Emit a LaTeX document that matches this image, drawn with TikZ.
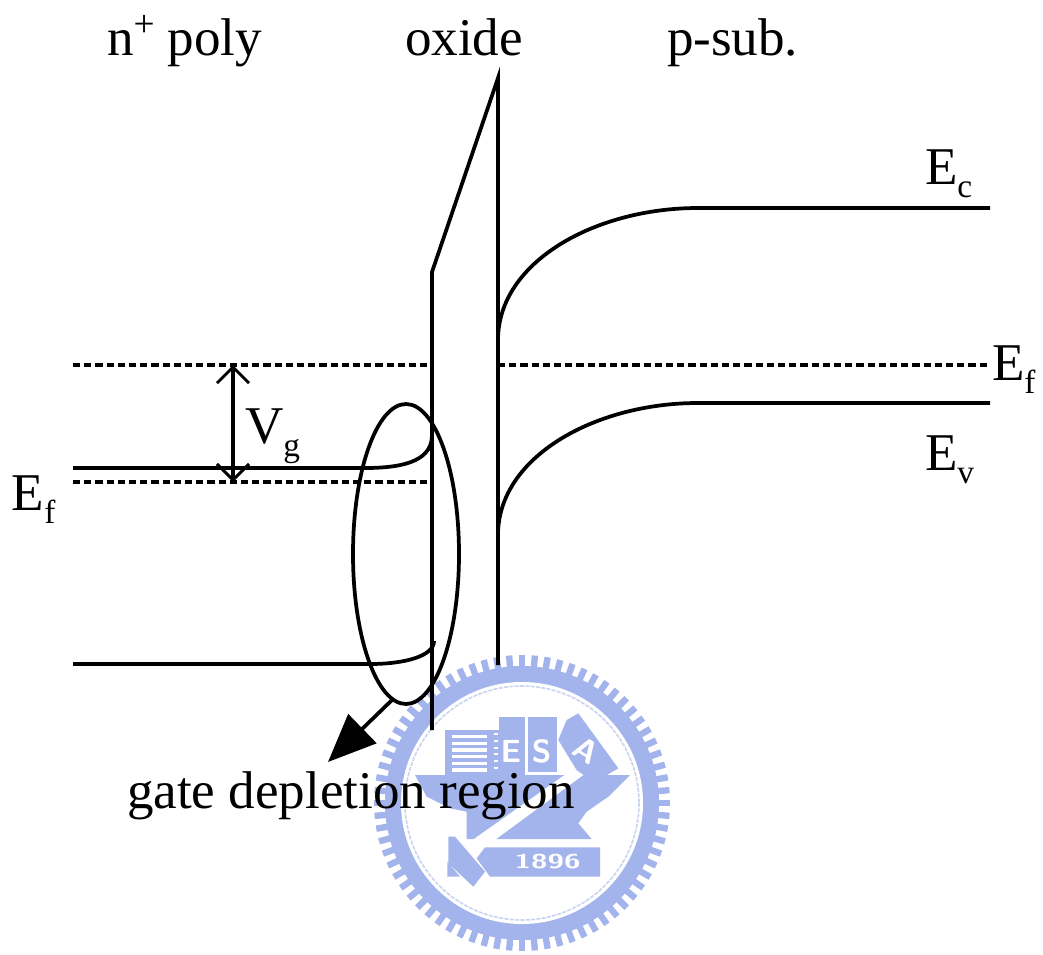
\documentclass[tikz,border=0pt]{standalone}
\usepackage{fontspec}
\setmainfont{Liberation Serif}
\usetikzlibrary{arrows.meta,shapes.geometric}
\definecolor{emb}{HTML}{A3B4EC}
\definecolor{embpale}{HTML}{C9D3F2}
\newcommand{\sbs}[1]{\raisebox{-10pt}{\fontsize{25}{25}\selectfont #1}}
\newcommand{\sps}[1]{\raisebox{14pt}{\fontsize{28}{28}\selectfont #1}}
\tikzset{
  lbl/.style={anchor=base west,inner sep=0pt,outer sep=0pt,font=\fontsize{39.8}{42}\selectfont},
  band/.style={line width=2.8pt,black},
  lvl/.style={line width=2.6pt,black,dash pattern=on 5.4pt off 3pt},
  oxl/.style={line width=2.8pt,black,line join=miter},
  eml/.style={inner sep=0pt,text=white,font=\fontsize{24}{24}\bfseries\sffamily\selectfont}
}
\begin{document}
\begin{tikzpicture}[x=0.75pt,y=-0.75pt]
\useasboundingbox (0,0) rectangle (1043,954);
% emblem: teeth, ring
\foreach \a in {0,5,...,355}{
  \fill[emb,rotate around={\a:(522,803)}] (518.8,803-148) rectangle (525.2,803-130);
}
\fill[emb] (522,803) circle[radius=137];
\fill[white] (522,803) circle[radius=121];
\draw[embpale,line width=1.2pt,dash pattern=on 3pt off 1pt] (522,803) circle[radius=117];
\begin{scope}[shift={(370,640)},x=0.25pt,y=-0.25pt]
  % building
  \fill[emb] (225,270) rectangle (388,410);
  \foreach \y in {285,305,325,345,365,385}{\fill[white] (245,\y) rectangle (352,\y+10);}
  \foreach \y in {280,300,320,340,360,380}{\fill[white] (372,\y) rectangle (384,\y+6);}
  % books
  \fill[emb] (388,230) rectangle (465,405);
  \fill[emb] (473,230) rectangle (560,395);
  \fill[emb] (590,240) -- (625,220) -- (745,385) -- (650,440) -- (565,300) -- cycle;
  % anvil
  \fill[emb] (135,405) -- (780,405) -- (715,470) -- (650,515) -- (625,550) -- (665,597) -- (290,597) -- (290,515) -- (240,505) -- (170,470) -- cycle;
  % sword
  \fill[white] (612,385) -- (640,405) -- (320,640) -- (272,625) -- cycle;
  \fill[emb] (235,590) -- (255,590) -- (345,695) -- (310,740) -- (235,670) -- cycle;
  \fill[emb] (232,665) -- (270,710) -- (232,710) -- cycle;
  % plate
  \fill[emb] (345,622) -- (690,622) -- (690,710) -- (360,710) -- (320,655) -- cycle;
  \node[inner sep=0pt,text=white,xscale=1.5,font=\fontsize{15}{15}\bfseries\sffamily\selectfont] (yr) at (533,665) {1896};
  \node[eml] (le) at (423,335) {E};
  \node[eml] (ls) at (515,335) {S};
  \node[eml,rotate=-32] (la) at (650,332) {A};
\end{scope}
% anchor points
\coordinate (oxa) at (432,730);
\coordinate (oxb) at (432,272);
\coordinate (oxc) at (498,78);
\coordinate (oxd) at (498,665);
\coordinate (dla) at (73,365);
\coordinate (dlb) at (432,365);
\coordinate (dra) at (498,365);
\coordinate (drb) at (990,365);
\coordinate (dlc) at (73,482);
\coordinate (dld) at (432,482);
\coordinate (efa) at (73,468);
\coordinate (efb) at (365,468);
\coordinate (efc) at (432,435);
\coordinate (bla) at (73,664);
\coordinate (blb) at (370,664);
\coordinate (blc) at (434,641);
\coordinate (eca) at (498,340);
\coordinate (ecb) at (698,208);
\coordinate (ecc) at (990,208);
\coordinate (eva) at (498,535);
\coordinate (evb) at (698,403);
\coordinate (evc) at (990,403);
\coordinate (vga) at (233,365);
\coordinate (vgb) at (233,482);
\coordinate (ara) at (392,700);
\coordinate (arb) at (328,762);
% levels
\draw[lvl] (dla) -- (dlb);
\draw[lvl] (dra) -- (drb);
\draw[lvl] (dlc) -- (dld);
% oxide
\draw[oxl] (oxa) -- (oxb) -- (oxc) -- (oxd);
% bands
\draw[band] (efa) -- (efb) .. controls (410,468) and (432,458) .. (efc);
\draw[band] (bla) -- (blb) .. controls (405,664) and (434,656) .. (blc);
\draw[band] (eca) .. controls (498,262) and (595,208) .. (ecb) -- (ecc);
\draw[band] (eva) .. controls (498,457) and (595,403) .. (evb) -- (evc);
% ellipse
\node[draw,band,ellipse,inner sep=0pt,minimum width=79.5pt,minimum height=225pt] (ell) at (406,554) {};
% arrows
\draw[band,{Straight Barb[length=12pt,width=24pt,line width=2.2pt]}-{Straight Barb[length=12pt,width=24pt,line width=2.2pt]}] (vga) -- (vgb);
\draw[band,-{Triangle[length=36pt,width=30pt,fill=black]}] (ara) -- (arb);
% labels
\node[lbl] (npoly) at (107,55) {n\sps{+} poly};
\node[lbl] (oxide) at (405,55) {oxide};
\node[lbl] (psub) at (667,55) {p-sub.};
\node[lbl] (ec) at (925,184) {E\sbs{c}};
\node[lbl] (efr) at (992,380) {E\sbs{f}};
\node[lbl] (ev) at (925,470) {E\sbs{v}};
\node[lbl] (efl) at (12,510) {E\sbs{f}};
\node[lbl] (vg) at (245,443) {V\sbs{g}};
\node[lbl] (gate) at (127,808) {gate depletion region};
\end{tikzpicture}
\end{document}
